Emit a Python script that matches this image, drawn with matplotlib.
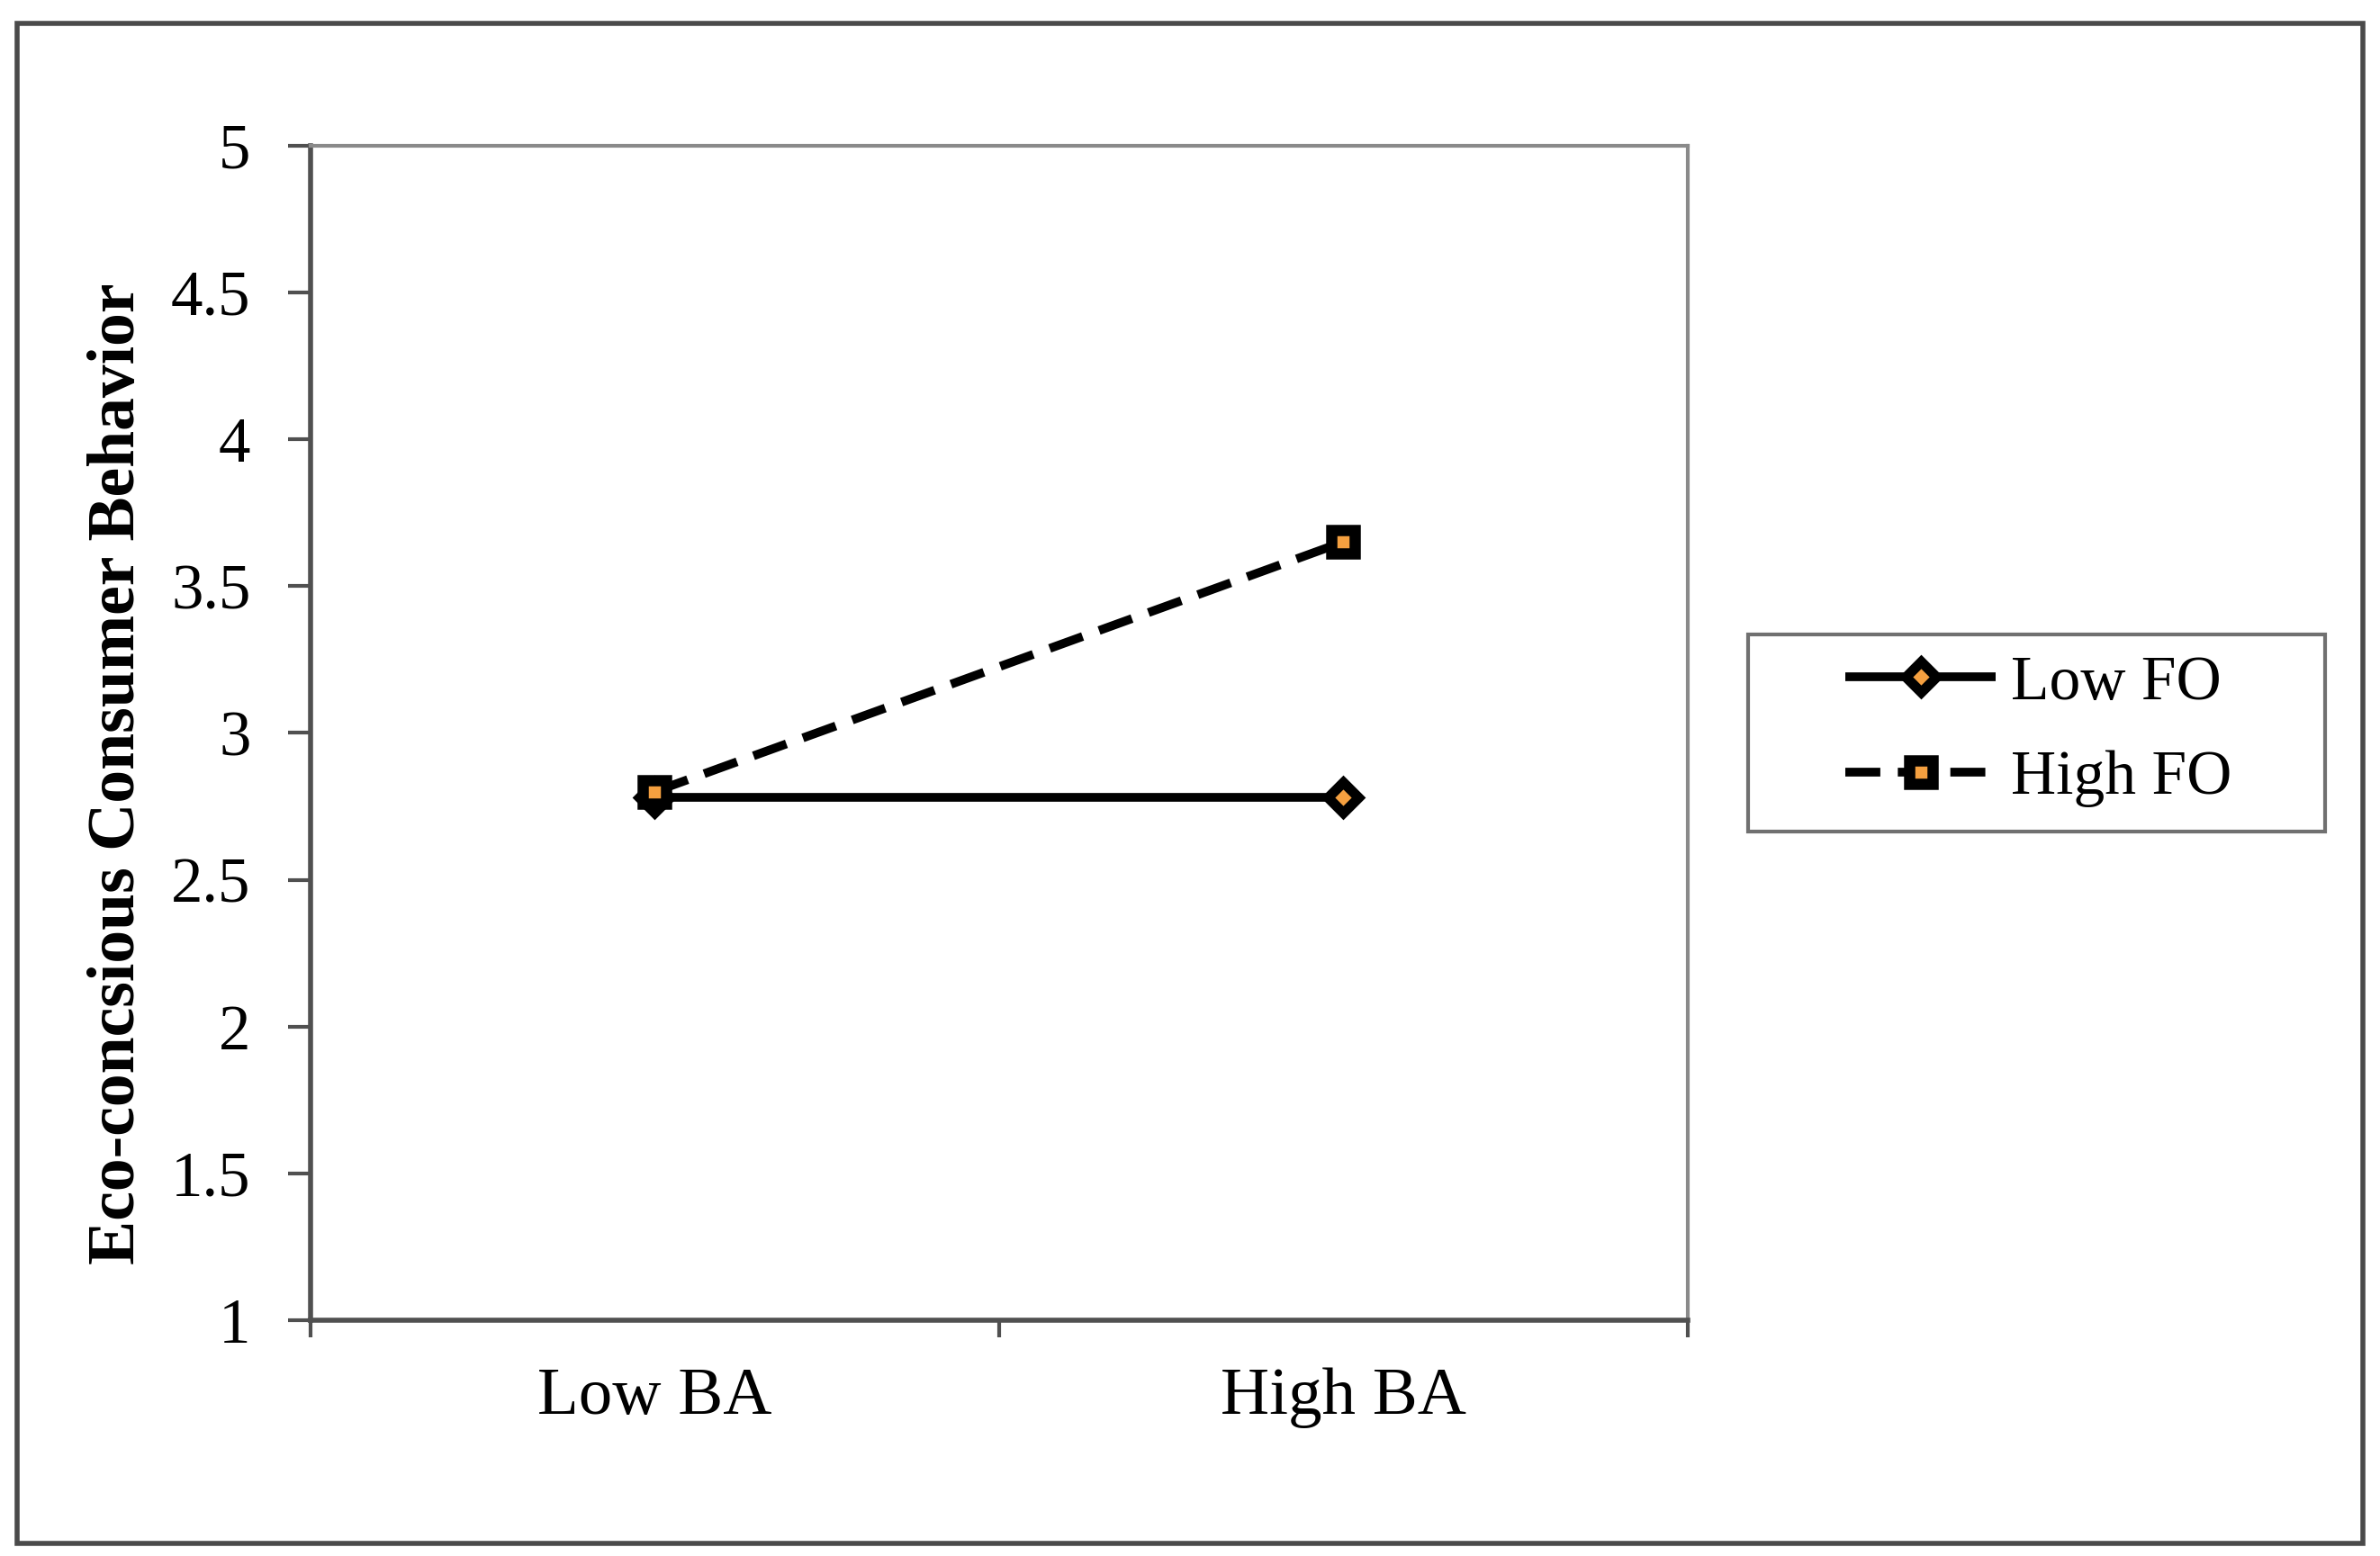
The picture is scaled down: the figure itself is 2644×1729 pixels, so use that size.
import matplotlib
matplotlib.use("Agg")
import matplotlib.pyplot as plt
from matplotlib.patches import Rectangle

categories = ["Low BA", "High BA"]
low_fo = [2.78, 2.78]
high_fo = [2.80, 3.65]
y_ticks = [1, 1.5, 2, 2.5, 3, 3.5, 4, 4.5, 5]
y_tick_labels = ["1", "1.5", "2", "2.5", "3", "3.5", "4", "4.5", "5"]

ORANGE = "#F5A040"
SPINE = "#505050"

plt.rcParams["font.family"] = ["Liberation Serif", "DejaVu Serif"]

fig = plt.figure(figsize=(26.44, 17.29), dpi=100)
ax = fig.add_axes([0.1305, 0.1515, 0.5785, 0.755])

x = [0.5, 1.5]
ax.plot(x, low_fo, color="black", lw=7, marker="D", ms=17, solid_capstyle="butt",
        mfc=ORANGE, mec="black", mew=8, label="Low FO", zorder=3)
ax.plot(x, high_fo, color="black", lw=7, ls=(0, (4, 2)), marker="s", ms=19,
        mfc=ORANGE, mec="black", mew=9, label="High FO", zorder=4)

ax.set_xlim(0, 2)
ax.set_ylim(1, 5)
ax.set_xticks([0, 1, 2])
ax.set_xticklabels([])
ax.set_xticks(x, minor=True)
ax.set_xticklabels(categories, minor=True, fontsize=54)
ax.tick_params(axis="x", which="minor", length=0, pad=38)
ax.tick_params(axis="x", which="major", length=14, width=3, color=SPINE, direction="out")
ax.set_yticks(y_ticks)
ax.set_yticklabels(y_tick_labels, fontsize=51)
ax.tick_params(axis="y", length=18, width=3, color=SPINE, direction="out", pad=30)

for side in ("left", "bottom"):
    ax.spines[side].set_linewidth(4)
    ax.spines[side].set_color(SPINE)
for side in ("top", "right"):
    ax.spines[side].set_linewidth(3)
    ax.spines[side].set_color("#8a8a8a")

ax.set_ylabel("Eco-concsious Consumer Behavior", fontsize=53, fontweight="bold")
ax.yaxis.set_label_coords(-0.118, 0.465)

# legend drawn without its own frame; the box is a fixed rectangle as in the original
leg = fig.legend(loc="center", bbox_to_anchor=(0.8567, 0.530), frameon=False,
                 fontsize=50, handlelength=2.4, handletextpad=0.25,
                 labelspacing=0.6, borderpad=0, borderaxespad=0)
fig.patches.append(Rectangle((0.7345, 0.4656), 0.2425, 0.1266, transform=fig.transFigure,
                             fill=False, edgecolor="#707070", linewidth=3))

fig.patches.append(Rectangle((0.007, 0.008), 0.986, 0.977, transform=fig.transFigure,
                             fill=False, edgecolor="#4a4a4a", linewidth=4))

fig.savefig("out.png", dpi=100, facecolor="white")
